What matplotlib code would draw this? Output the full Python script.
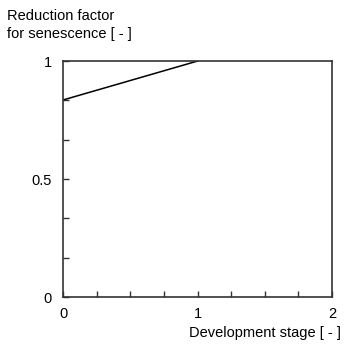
import matplotlib.pyplot as plt
import numpy as np

# development stage vs reduction factor for senescence
dvs = [0.0, 1.0]
red_fac = [0.835, 1.0]

xticks = [0, 1, 2]
yticks = [0, 0.5, 1]

plt.rcParams['font.family'] = ['Liberation Sans', 'DejaVu Sans']
plt.rcParams['font.size'] = 10.5

fig = plt.figure(figsize=(3.54, 3.57), dpi=100)
ax = fig.add_axes([0.178, 0.168, 0.760, 0.661])

ax.plot(dvs, red_fac, color='black', lw=1.1)
ax.set_xlim(0, 2)
ax.set_ylim(0, 1)

ax.set_xticks(xticks)
ax.set_xticklabels(['0', '1', '2'])
ax.set_yticks(yticks)
ax.set_yticklabels(['0', '0.5', '1'])
ax.set_xticks(np.arange(0, 2.01, 0.25), minor=True)
ax.set_yticks(np.arange(0, 1.01, 1/6), minor=True)
ax.tick_params(which='both', direction='in', length=4, width=1, color='#333333')
ax.tick_params(axis='x', which='major', pad=7)
ax.tick_params(axis='y', which='major', pad=8)
for s in ax.spines.values():
    s.set_color('#333333')
    s.set_linewidth(1.2)

fig.text(0.02, 0.975, 'Reduction factor\nfor senescence [ - ]', ha='left', va='top',
         linespacing=1.4)
fig.text(0.963, 0.066, 'Development stage [ - ]', ha='right', va='center')

fig.savefig('out.png', dpi=100)
